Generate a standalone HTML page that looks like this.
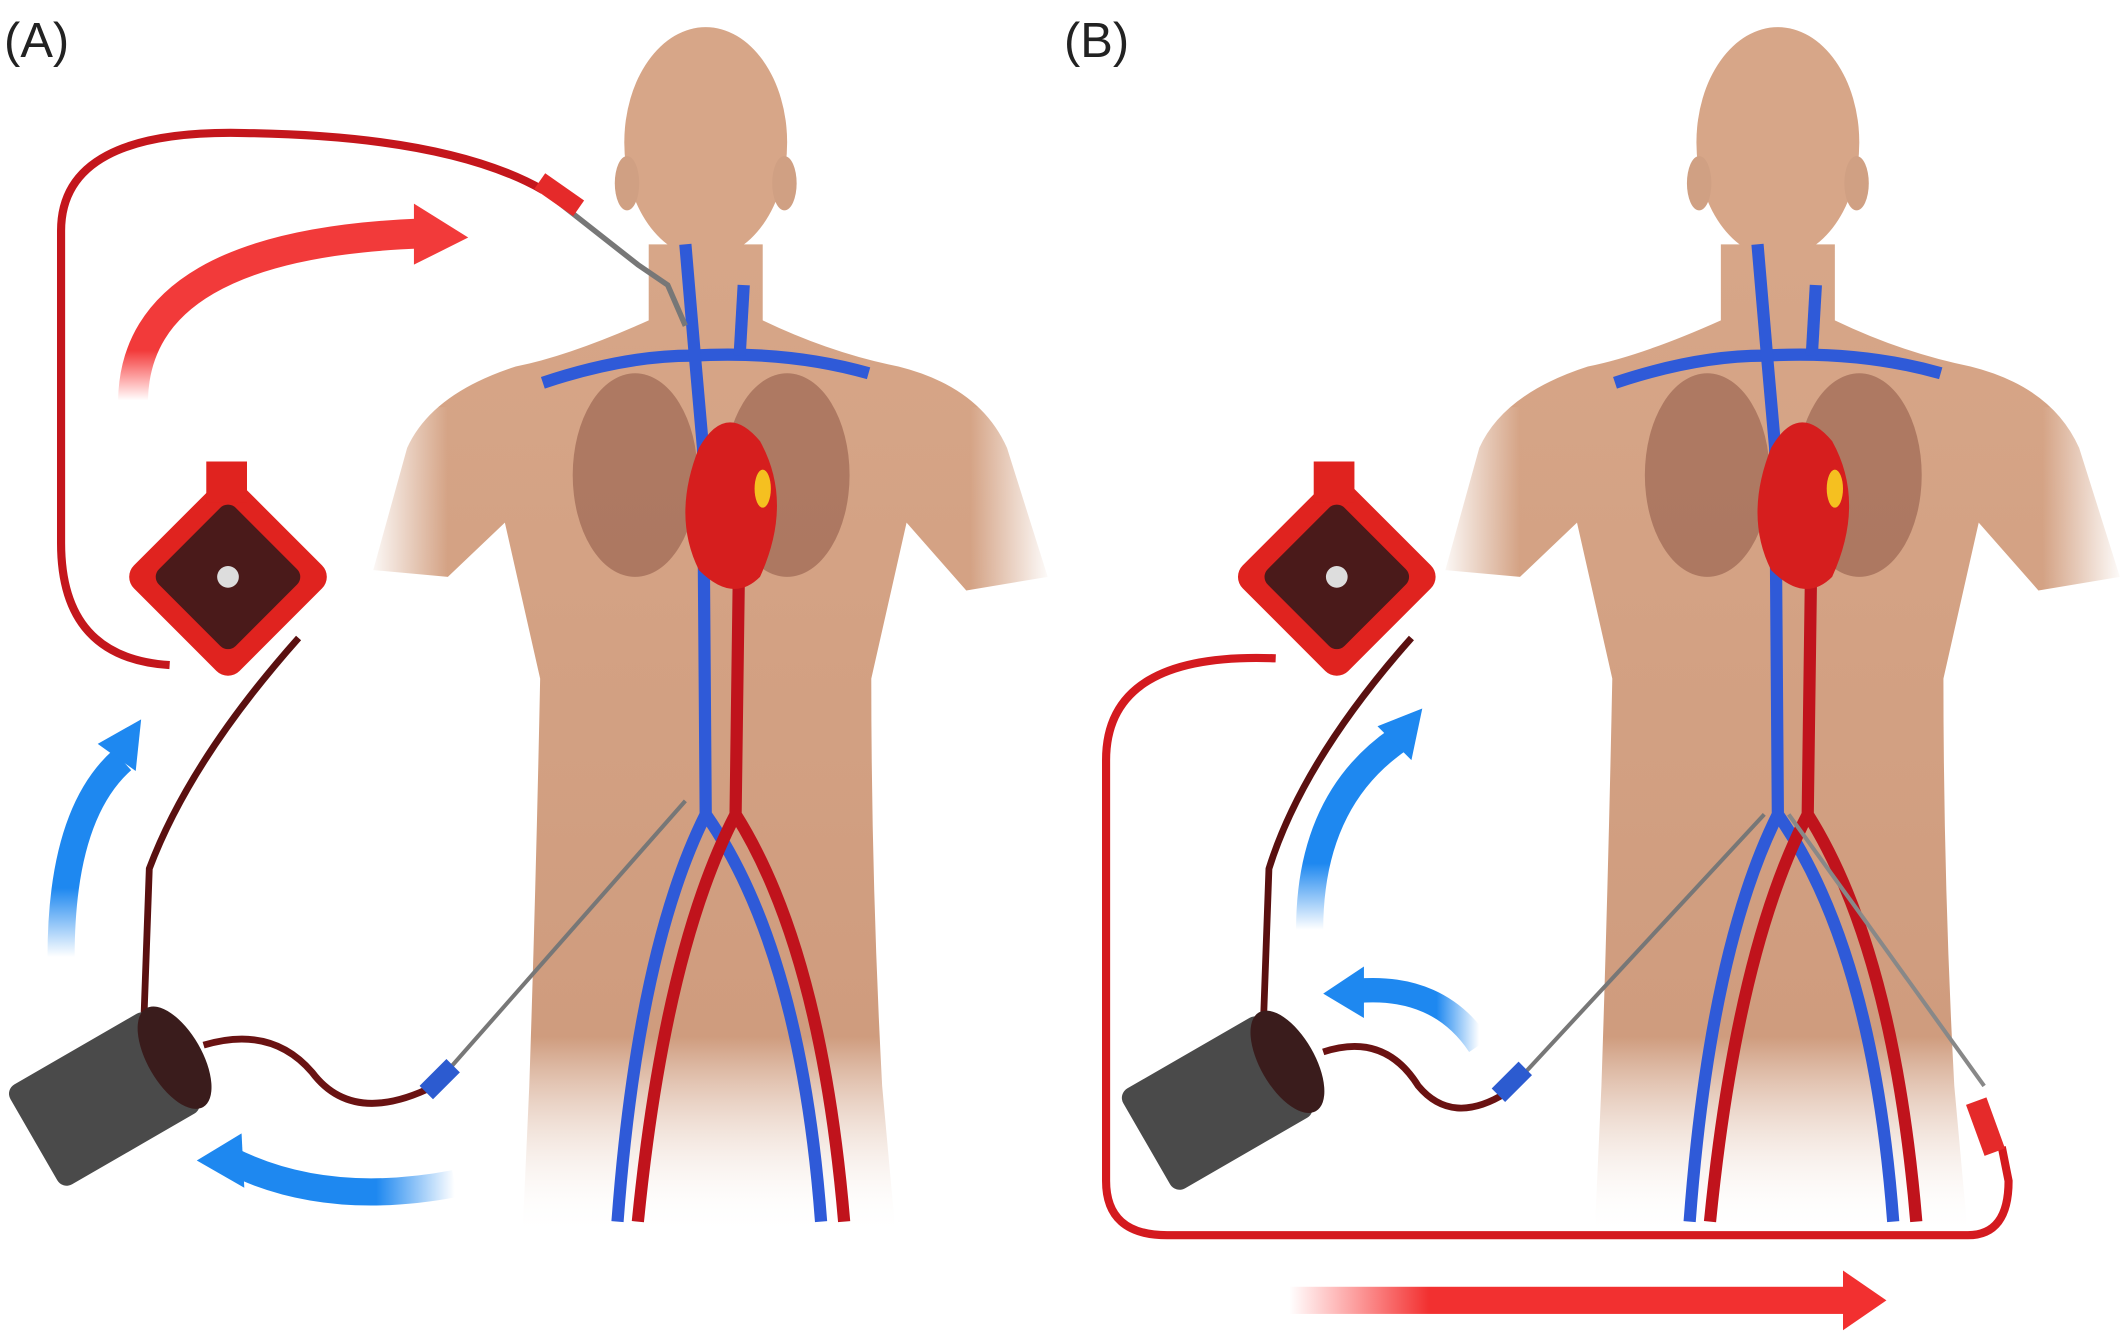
<!DOCTYPE html>
<html><head><meta charset="utf-8"><style>
html,body{margin:0;padding:0;background:#fff;}
svg{display:block;}
</style></head><body>
<svg width="2128" height="1337" viewBox="0 0 1568 985" preserveAspectRatio="none" xmlns="http://www.w3.org/2000/svg">
<defs>
<linearGradient id="skin" x1="0" y1="0" x2="0" y2="1">
<stop offset="0" stop-color="#d7a688"/><stop offset="0.8" stop-color="#cf9c7e"/><stop offset="1" stop-color="#fff" stop-opacity="0"/>
</linearGradient>
<linearGradient id="fadeL" x1="0" y1="0" x2="1" y2="0"><stop offset="0" stop-color="#fff" stop-opacity="1"/><stop offset="1" stop-color="#fff" stop-opacity="0"/></linearGradient>
<linearGradient id="fadeR" x1="1" y1="0" x2="0" y2="0"><stop offset="0" stop-color="#fff" stop-opacity="1"/><stop offset="1" stop-color="#fff" stop-opacity="0"/></linearGradient>
<linearGradient id="redA" x1="0" y1="1" x2="0" y2="0"><stop offset="0" stop-color="#f33" stop-opacity="0"/><stop offset="0.3" stop-color="#f23a3a"/></linearGradient>
<linearGradient id="blueUp" x1="0" y1="1" x2="0" y2="0"><stop offset="0" stop-color="#1e88f0" stop-opacity="0"/><stop offset="0.35" stop-color="#1e88f0"/></linearGradient>
<linearGradient id="blueL" x1="1" y1="0" x2="0" y2="0"><stop offset="0" stop-color="#1e88f0" stop-opacity="0"/><stop offset="0.35" stop-color="#1e88f0"/></linearGradient>
<linearGradient id="redR" x1="0" y1="0" x2="1" y2="0"><stop offset="0" stop-color="#f33" stop-opacity="0"/><stop offset="0.25" stop-color="#f23030"/><stop offset="1" stop-color="#f23030"/></linearGradient>
<g id="body">
<path d="M478,180 L478,236 Q420,262 380,270 Q318,290 300,330 L275,420 L330,425 L372,385 L398,500 Q395,650 390,800 L385,910 L660,910 L650,800 Q642,650 642,500 L668,385 L712,435 L772,425 L742,330 Q722,285 662,270 Q612,260 562,236 L562,180 Z" fill="url(#skin)"/>
<rect x="270" y="300" width="60" height="140" fill="url(#fadeL)"/>
<rect x="715" y="300" width="60" height="140" fill="url(#fadeR)"/>
<ellipse cx="520" cy="105" rx="60" ry="85" fill="#d7a688"/>
<ellipse cx="462" cy="135" rx="9" ry="20" fill="#d0a083"/>
<ellipse cx="578" cy="135" rx="9" ry="20" fill="#d0a083"/>
<ellipse cx="468" cy="350" rx="46" ry="75" fill="#9c6652" opacity="0.7"/>
<ellipse cx="580" cy="350" rx="46" ry="75" fill="#9c6652" opacity="0.7"/>
<path d="M400,282 Q460,262 510,262 Q580,258 640,275" stroke="#2f5ad8" stroke-width="9" fill="none"/>
<path d="M505,180 L512,262 L518,330 L520,600 Q470,700 455,900 M520,600 Q590,700 605,900" stroke="#2f5ad8" stroke-width="9" fill="none"/>
<path d="M548,210 L545,262" stroke="#2f5ad8" stroke-width="9" fill="none"/>
<path d="M545,380 L542,600 Q490,700 470,900 M542,600 Q605,700 622,900" stroke="#c0131c" stroke-width="9" fill="none"/>
<path d="M515,330 Q535,295 560,325 Q585,370 560,425 Q540,445 515,420 Q495,380 515,330Z" fill="#d61e1e"/>
<ellipse cx="562" cy="360" rx="6" ry="14" fill="#f5c020"/>
</g>
</defs>
<use href="#body"/>
<use href="#body" transform="translate(790,0)"/>
<text x="3" y="42" font-family="Liberation Sans, sans-serif" font-size="36" fill="#222">(A)</text>
<text x="784" y="42" font-family="Liberation Sans, sans-serif" font-size="36" fill="#222">(B)</text>
<!-- Panel A tubes -->
<path d="M125,490 Q45,485 45,400 L45,170 Q45,95 180,98 Q330,100 400,140" stroke="#c4161c" stroke-width="6" fill="none"/>
<path d="M400,140 L470,195 L492,210 L505,240" stroke="#777" stroke-width="4" fill="none"/>
<rect x="395" y="135" width="35" height="14" fill="#e52a2a" transform="rotate(35 410 142)"/>
<path d="M220,470 Q140,560 110,640 L105,780" stroke="#5a1010" stroke-width="5" fill="none"/>
<path d="M150,770 Q200,755 230,790 Q260,830 320,800" stroke="#6a1212" stroke-width="5" fill="none"/>
<path d="M320,800 L505,590" stroke="#777" stroke-width="3" fill="none"/>
<rect x="310" y="788" width="28" height="14" fill="#2c5bd0" transform="rotate(-45 324 795)"/>
<g transform="translate(168,425) rotate(45)"><rect x="-55" y="-55" width="110" height="110" rx="12" fill="#e0231f"/><rect x="-40" y="-40" width="80" height="80" rx="8" fill="#4a1a1a"/><circle r="8" fill="#ddd"/></g>
<rect x="152" y="340" width="30" height="30" fill="#e0231f"/>
<g transform="translate(80,805) rotate(-30)"><rect x="-65" y="-40" width="120" height="85" rx="8" fill="#4a4a4a"/><ellipse cx="55" cy="2" rx="20" ry="42" fill="#3a1c1c"/></g>
<path d="M98,295 Q100,180 310,172" stroke="url(#redA)" stroke-width="22" fill="none"/>
<polygon points="305,150 345,175 305,195" fill="#f23a3a"/>
<path d="M45,705 Q45,600 90,560" stroke="url(#blueUp)" stroke-width="20" fill="none"/>
<polygon points="72,548 104,530 100,568" fill="#1e88f0"/>
<path d="M335,872 Q240,890 170,855" stroke="url(#blueL)" stroke-width="20" fill="none"/>
<polygon points="178,835 145,855 180,875" fill="#1e88f0"/>
<!-- Panel B tubes -->
<path d="M940,485 Q815,480 815,560 L815,870 Q815,910 860,910 L1450,910 Q1480,910 1480,870 L1475,845" stroke="#d41a1f" stroke-width="6" fill="none"/>
<path d="M1462,800 L1318,600" stroke="#888" stroke-width="3" fill="none"/>
<rect x="1455" y="810" width="16" height="40" fill="#e52a2a" transform="rotate(-20 1463 830)"/>
<path d="M1040,470 Q960,560 935,640 L930,780" stroke="#5a1010" stroke-width="5" fill="none"/>
<path d="M975,775 Q1020,760 1045,800 Q1070,830 1110,805" stroke="#6a1212" stroke-width="5" fill="none"/>
<path d="M1110,805 L1300,600" stroke="#777" stroke-width="3" fill="none"/>
<rect x="1100" y="790" width="28" height="14" fill="#2c5bd0" transform="rotate(-45 1114 797)"/>
<g transform="translate(985,425) rotate(45)"><rect x="-55" y="-55" width="110" height="110" rx="12" fill="#e0231f"/><rect x="-40" y="-40" width="80" height="80" rx="8" fill="#4a1a1a"/><circle r="8" fill="#ddd"/></g>
<rect x="968" y="340" width="30" height="30" fill="#e0231f"/>
<g transform="translate(900,808) rotate(-30)"><rect x="-65" y="-40" width="120" height="85" rx="8" fill="#4a4a4a"/><ellipse cx="55" cy="2" rx="20" ry="42" fill="#3a1c1c"/></g>
<path d="M965,685 Q965,590 1030,545" stroke="url(#blueUp)" stroke-width="20" fill="none"/>
<polygon points="1015,535 1048,522 1040,560" fill="#1e88f0"/>
<path d="M1090,770 Q1060,725 1000,730" stroke="url(#blueL)" stroke-width="18" fill="none"/>
<polygon points="1005,712 975,732 1005,750" fill="#1e88f0"/>
<rect x="950" y="948" width="412" height="20" fill="url(#redR)"/>
<polygon points="1358,936 1390,958 1358,980" fill="#f23030"/>
</svg>
</body></html>
